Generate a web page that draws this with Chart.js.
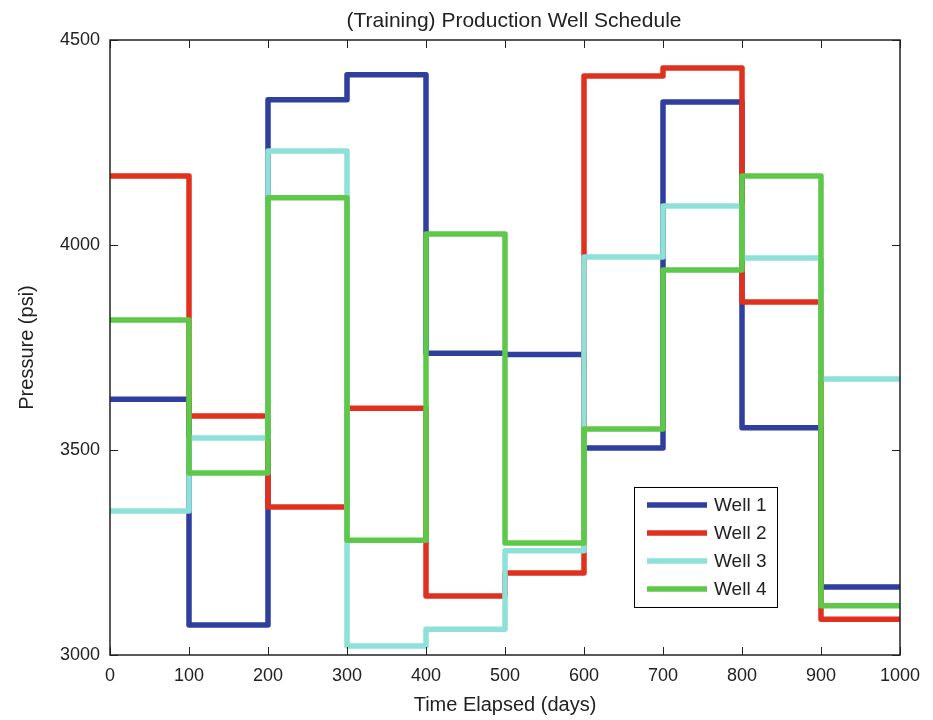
<!DOCTYPE html>
<html>
<head>
<meta charset="utf-8">
<script src="https://cdn.jsdelivr.net/npm/chart.js@4.4.1/dist/chart.umd.min.js"></script>
<style>
    html, body { margin: 0; padding: 0; background: #fff; }
    #wrap { width: 933px; height: 720px; }
</style>
</head>
<body>
<div id="wrap"><canvas id="chart" width="933" height="720"></canvas></div>
<script>
const days = [0, 100, 200, 300, 400, 500, 600, 700, 800, 900, 1000];
const well1 = [3624, 3073, 4354, 4415, 3736, 3733, 3505, 4349, 3554, 3166, 3166];
const well2 = [4168, 3583, 3361, 3602, 3144, 3200, 4412, 4432, 3861, 3087, 3087];
const well3 = [3351, 3529, 4229, 3022, 3063, 3254, 3971, 4095, 3968, 3673, 3673];
const well4 = [3817, 3444, 4115, 3280, 4027, 3273, 3551, 3939, 4168, 3120, 3120];
const wellNames = ['Well 1', 'Well 2', 'Well 3', 'Well 4'];
const wellColors = ['#2E3F9E', '#E0301E', '#8FE0D8', '#5EC84A'];

const FONT = 'Liberation Sans, Arial, Helvetica, sans-serif';
const INK = '#222';

const toPoints = vals => vals.map((v, i) => ({ x: days[i], y: v }));
const series = [well1, well2, well3, well4];

// Well 4 on top, Well 1 at the bottom (as plotted in order)
const datasets = series.map((vals, i) => ({
    label: wellNames[i],
    data: toPoints(vals),
    borderColor: wellColors[i],
    backgroundColor: wellColors[i],
    borderWidth: 5.5,
    stepped: 'before',
    pointRadius: 0,
    borderJoinStyle: 'round',
    fill: false,
    order: 4 - i
}));

// MATLAB style box with inward ticks, title and legend
const matlabAxes = {
    id: 'matlabAxes',
    afterDraw(chart) {
        const { ctx, chartArea: a, scales: { x, y } } = chart;
        ctx.save();
        ctx.strokeStyle = INK;
        ctx.lineWidth = 1;
        ctx.beginPath();
        x.ticks.forEach(t => {
            const px = Math.round(x.getPixelForValue(t.value)) + 0.5;
            ctx.moveTo(px, a.bottom); ctx.lineTo(px, a.bottom - 8);
            ctx.moveTo(px, a.top); ctx.lineTo(px, a.top + 8);
        });
        y.ticks.forEach(t => {
            const py = Math.round(y.getPixelForValue(t.value)) + 0.5;
            ctx.moveTo(a.left, py); ctx.lineTo(a.left + 8, py);
            ctx.moveTo(a.right, py); ctx.lineTo(a.right - 8, py);
        });
        ctx.stroke();
        ctx.lineWidth = 1.5;
        ctx.strokeRect(a.left, a.top, a.right - a.left, a.bottom - a.top);

        // title
        ctx.fillStyle = INK;
        ctx.font = '21px ' + FONT;
        ctx.textAlign = 'center';
        ctx.textBaseline = 'alphabetic';
        ctx.fillText('(Training) Production Well Schedule', 514, 27);

        // legend
        const lx = 634, ly = 487, lw = 143, lh = 120;
        ctx.fillStyle = '#fff';
        ctx.fillRect(lx, ly, lw, lh);
        ctx.strokeStyle = '#000';
        ctx.lineWidth = 1;
        ctx.strokeRect(lx + 0.5, ly + 0.5, lw, lh);
        ctx.font = '19px ' + FONT;
        ctx.textAlign = 'left';
        ctx.textBaseline = 'middle';
        wellNames.forEach((name, i) => {
            const ry = 505 + i * 28;
            ctx.strokeStyle = wellColors[i];
            ctx.lineWidth = 5.5;
            ctx.beginPath();
            ctx.moveTo(647, ry); ctx.lineTo(707, ry);
            ctx.stroke();
            ctx.fillStyle = INK;
            ctx.fillText(name, 714, ry + 1);
        });
        ctx.restore();
    }
};

new Chart(document.getElementById('chart'), {
    type: 'line',
    data: { datasets },
    plugins: [matlabAxes],
    options: {
        responsive: false,
        animation: false,
        layout: { padding: { left: 0, right: 33, top: 40, bottom: 0 } },
        plugins: { legend: { display: false }, title: { display: false }, tooltip: { enabled: false } },
        scales: {
            x: {
                type: 'linear', min: 0, max: 1000,
                afterFit: s => { s.height = 65; },
                grid: { display: false, drawTicks: false },
                border: { display: false },
                ticks: { stepSize: 100, padding: 10, color: INK, font: { family: FONT, size: 18 }, maxRotation: 0, callback: v => String(v) },
                title: { display: true, text: 'Time Elapsed (days)', color: INK, font: { family: FONT, size: 20 }, padding: { top: 0, bottom: 3 } }
            },
            y: {
                min: 3000, max: 4500,
                afterFit: s => { s.width = 110; },
                grid: { display: false, drawTicks: false },
                border: { display: false },
                ticks: { stepSize: 500, padding: 10, color: INK, font: { family: FONT, size: 18 }, callback: v => String(v) },
                title: { display: true, text: 'Pressure (psi)', color: INK, font: { family: FONT, size: 20 }, padding: { top: 15, bottom: 0 } }
            }
        }
    }
});
</script>
</body>
</html>
